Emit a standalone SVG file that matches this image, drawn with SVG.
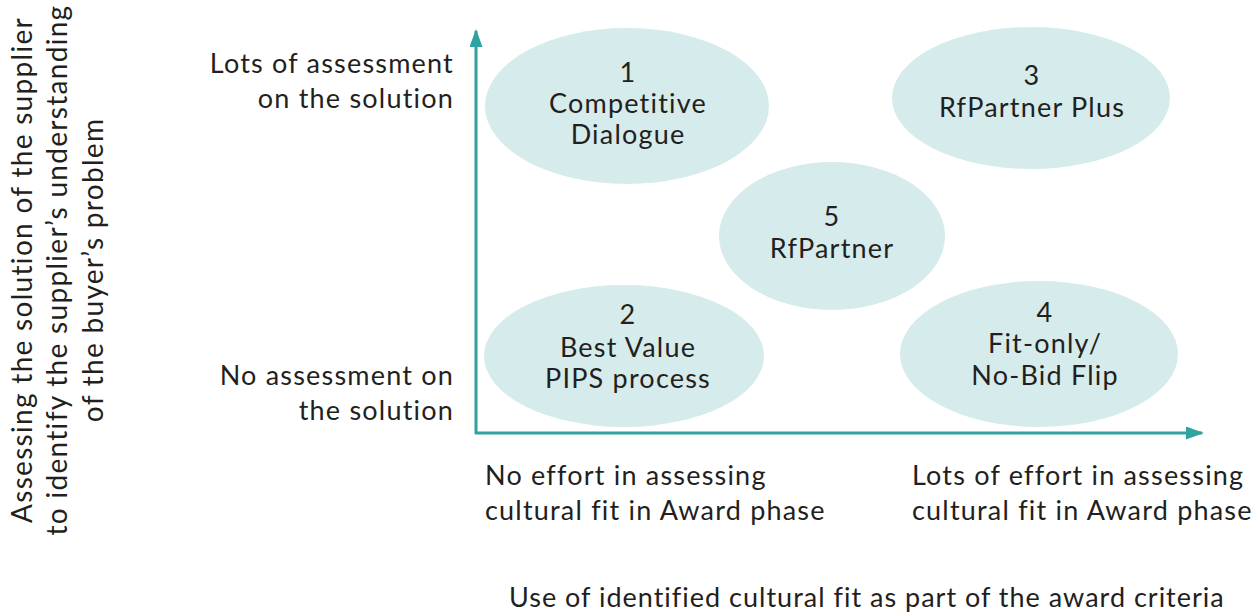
<svg xmlns="http://www.w3.org/2000/svg" width="1256" height="614" viewBox="0 0 1256 614">
  <style>
    text { font-family: Lato, "Open Sans", "Liberation Sans", sans-serif; font-size: 27px; letter-spacing: 1.2px; fill: #231f20; }
    .node ellipse { fill: #d6ebeb; }
    .node text { text-anchor: middle; }
    .axis { stroke: #2ea39f; stroke-width: 3; fill: none; }
    .rlabel { text-anchor: end; }
    .ytitle { text-anchor: middle; font-size: 28px; letter-spacing: 1.3px; }
    .xtitle { letter-spacing: 1px; }
  </style>
  <defs>
    <marker id="arrow" viewBox="0 0 18 13" refX="16" refY="6.5" markerWidth="18" markerHeight="13" markerUnits="userSpaceOnUse" orient="auto">
      <path d="M0,0 L18,6.5 L0,13 z" fill="#2ea39f"/>
    </marker>
  </defs>

  <rect width="1256" height="614" fill="#ffffff"/>

  <!-- quadrant nodes -->
  <g id="node-1" class="node">
    <ellipse cx="627" cy="106" rx="142" ry="78"/>
    <text x="628" y="82">1</text>
    <text x="628" y="113">Competitive</text>
    <text x="628" y="144">Dialogue</text>
  </g>
  <g id="node-3" class="node">
    <ellipse cx="1031" cy="98" rx="139" ry="71"/>
    <text x="1032" y="85">3</text>
    <text x="1032" y="117">RfPartner Plus</text>
  </g>
  <g id="node-5" class="node">
    <ellipse cx="832" cy="236" rx="113" ry="74"/>
    <text x="832" y="226">5</text>
    <text x="832" y="258">RfPartner</text>
  </g>
  <g id="node-2" class="node">
    <ellipse cx="624" cy="356" rx="140" ry="71"/>
    <text x="628" y="324">2</text>
    <text x="628" y="357">Best Value</text>
    <text x="628" y="388">PIPS process</text>
  </g>
  <g id="node-4" class="node">
    <ellipse cx="1039" cy="354" rx="139" ry="73"/>
    <text x="1045" y="322">4</text>
    <text x="1045" y="353">Fit-only/</text>
    <text x="1045" y="385">No-Bid Flip</text>
  </g>

  <!-- axes -->
  <g id="connectors">
    <path class="axis" d="M476,434 L476,31" marker-end="url(#arrow)"/>
    <path class="axis" d="M475,433 L1202,433" marker-end="url(#arrow)"/>
  </g>

  <!-- vertical axis labels -->
  <g id="y-labels">
    <text class="rlabel" x="454" y="73">Lots of assessment</text>
    <text class="rlabel" x="454" y="108">on the solution</text>
    <text class="rlabel" x="454" y="385">No assessment on</text>
    <text class="rlabel" x="454" y="420">the solution</text>
  </g>
  <g id="y-title" transform="translate(0,270) rotate(-90)">
    <text class="ytitle" x="0" y="32">Assessing the solution of the supplier</text>
    <text class="ytitle" x="0" y="67">to identify the supplier’s understanding</text>
    <text class="ytitle" x="0" y="103">of the buyer’s problem</text>
  </g>

  <!-- horizontal axis labels -->
  <g id="x-labels">
    <text x="485" y="485">No effort in assessing</text>
    <text x="485" y="520">cultural fit in Award phase</text>
    <text x="912" y="485">Lots of effort in assessing</text>
    <text x="912" y="520">cultural fit in Award phase</text>
    <text class="xtitle" x="509" y="607">Use of identified cultural fit as part of the award criteria</text>
  </g>
</svg>
